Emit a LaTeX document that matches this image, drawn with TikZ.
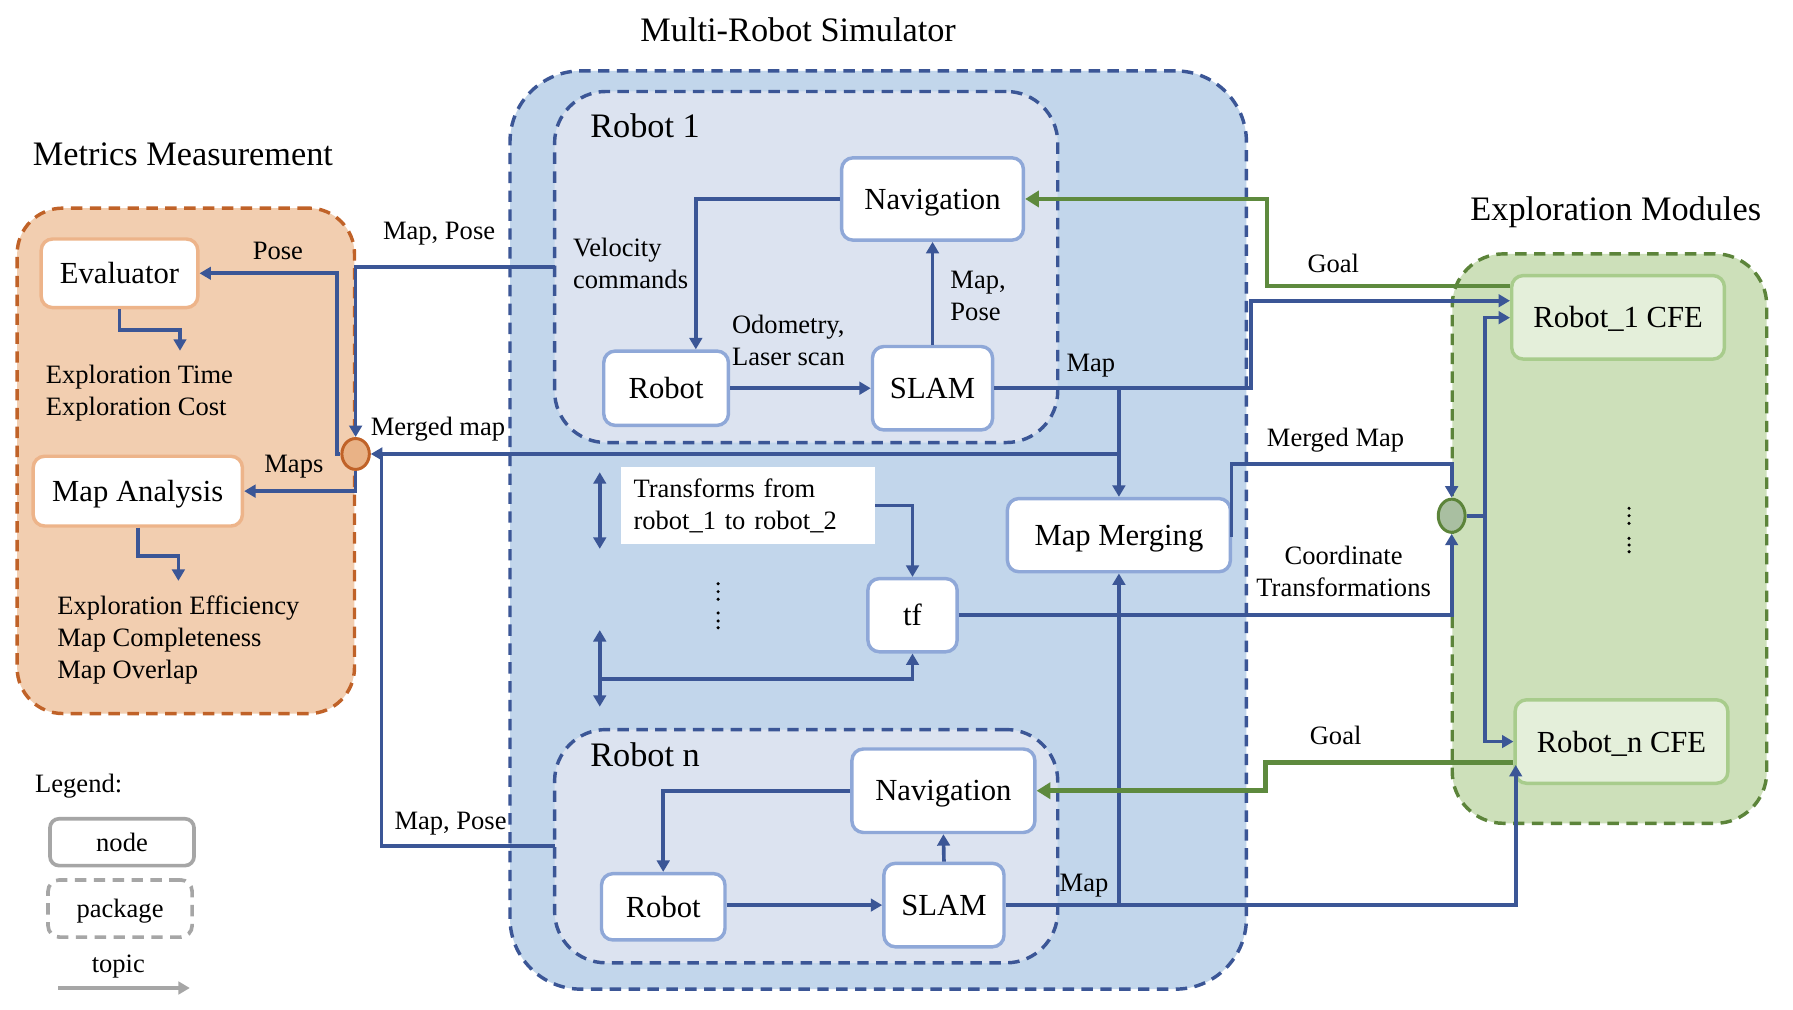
\documentclass[tikz,border=0pt]{standalone}
\usepackage{fontspec}
\setmainfont{Liberation Serif}
\usetikzlibrary{arrows.meta,shapes.geometric}
\definecolor{lineblue}{HTML}{3B5696}
\definecolor{simfill}{HTML}{C2D6EB}
\definecolor{robfill}{HTML}{DCE3F0}
\definecolor{nodeblue}{HTML}{8FA8D8}
\definecolor{orfill}{HTML}{F2CEB0}
\definecolor{ordash}{HTML}{C06228}
\definecolor{ornode}{HTML}{EDB48A}
\definecolor{orcirc}{HTML}{E9B286}
\definecolor{grfill}{HTML}{CDE0BA}
\definecolor{grdash}{HTML}{5C843A}
\definecolor{grnode}{HTML}{A8CC8C}
\definecolor{grnodefill}{HTML}{E4EFDA}
\definecolor{grcirc}{HTML}{A9BFA1}
\definecolor{goalgreen}{HTML}{5E8A3E}
\definecolor{leggray}{HTML}{A6A6A6}
\newcommand\fsTitle{\fontsize{30}{35}\selectfont}
\newcommand\fsNode{\fontsize{26.8}{31}\selectfont}
\newcommand\fsLab{\fontsize{23.2}{28}\selectfont}
\begin{document}
\begin{tikzpicture}[x=1pt,y=-1pt,
  container/.style={line width=3pt, dash pattern=on 10pt off 6.5pt, inner sep=0pt},
  box/.style={draw, line width=3pt, rounded corners=10pt, inner sep=0pt, font=\fsNode, fill=white, text depth=0pt},
  bnode/.style={box, draw=nodeblue},
  onode/.style={box, draw=ornode},
  gnode/.style={box, draw=grnode, fill=grnodefill},
  lab/.style={inner sep=0pt, font=\fsLab, align=left, text depth=0pt},
  tfstyle/.style={inner sep=0pt, font=\fsLab, align=left, fill=white, text width=200pt},
  ttl/.style={inner sep=0pt, font=\fsTitle, text depth=0pt},
  bl/.style={draw=lineblue, line width=3.2pt, -{Triangle[length=10pt,width=11pt]}},
  bln/.style={draw=lineblue, line width=3.2pt},
  dbl/.style={draw=lineblue, line width=3.2pt, {Triangle[length=10pt,width=11pt]}-{Triangle[length=10pt,width=11pt]}},
  gl/.style={draw=goalgreen, line width=4pt, -{Triangle[length=12pt,width=14pt]}},
  dotf/.style={fill=black}
]
\fill[white] (0,0) rectangle (1568,883);
\useasboundingbox (0,0) rectangle (1568,883);

% containers
\node[container, draw=lineblue, fill=simfill, rounded corners=62pt, minimum width=644pt, minimum height=803pt] (sim) at (768,463.5) {};
\node[container, draw=lineblue, fill=robfill, rounded corners=45pt, minimum width=440pt, minimum height=307pt] (r1box) at (705,233.5) {};
\node[container, draw=lineblue, fill=robfill, rounded corners=45pt, minimum width=440pt, minimum height=204pt] (rnbox) at (705,740) {};
\node[container, draw=ordash, fill=orfill, rounded corners=40pt, minimum width=295pt, minimum height=442pt] (met) at (162.5,403) {};
\node[container, draw=grdash, fill=grfill, rounded corners=45pt, minimum width=275pt, minimum height=498pt] (expl) at (1407.5,471) {};

% titles
\node[ttl] (tSim) at (698,26) {Multi-Robot Simulator};
\node[ttl] (tMet) at (160,135) {Metrics Measurement};
\node[ttl] (tExp) at (1413,182) {Exploration Modules};
\node[ttl, anchor=west] (tR1) at (516,110) {Robot 1};
\node[ttl, anchor=west] (tRn) at (516,660) {Robot n};

% nodes
\node[onode, minimum width=137pt, minimum height=60pt] (eval) at (104.5,239) {Evaluator};
\node[onode, minimum width=183pt, minimum height=61pt] (mapan) at (120.5,429.5) {Map Analysis};
\node[bnode, minimum width=159pt, minimum height=72pt] (nav1) at (815.5,174) {Navigation};
\node[bnode, minimum width=109pt, minimum height=65pt] (rob1) at (582.5,339.5) {Robot};
\node[bnode, minimum width=105pt, minimum height=73pt] (slam1) at (815.5,339.5) {SLAM};
\node[bnode, minimum width=195pt, minimum height=64pt] (mm) at (978.5,468) {Map Merging};
\node[bnode, minimum width=78pt, minimum height=64pt] (tf) at (798,538) {tf};
\node[bnode, minimum width=160pt, minimum height=73pt] (navn) at (825,691.5) {Navigation};
\node[bnode, minimum width=108pt, minimum height=58pt] (robn) at (580,793) {Robot};
\node[bnode, minimum width=105pt, minimum height=73pt] (slamn) at (825.5,791.5) {SLAM};
\node[gnode, minimum width=186pt, minimum height=73pt] (cfe1) at (1415,277.5) {Robot\_1 CFE};
\node[gnode, minimum width=186pt, minimum height=73pt] (cfen) at (1418,648.5) {Robot\_n CFE};
\node[ellipse, draw=ordash, fill=orcirc, line width=2.6pt, minimum width=24pt, minimum height=27pt, inner sep=0pt] (circ) at (311,397) {};
\node[ellipse, draw=grdash, fill=grcirc, line width=2.6pt, minimum width=23.5pt, minimum height=29pt, inner sep=0pt] (gc) at (1269.5,451) {};
\node[tfstyle, minimum width=222pt, minimum height=68pt] (tfbox) at (654,442) {Transforms from\\robot\_1 to robot\_2};

% labels
\node[lab] (lMP1) at (384,202) {Map, Pose};
\node[lab] (lPose) at (243,219) {Pose};
\node[lab, anchor=west] (lVel) at (501,230) {Velocity\\commands};
\node[lab, anchor=west] (lOdo) at (640,298) {Odometry,\\Laser scan};
\node[lab, anchor=west] (lMP2) at (831,259) {Map,\\Pose};
\node[lab] (lMap1) at (954,317) {Map};
\node[lab] (lGoal1) at (1166,230) {Goal};
\node[lab] (lMerged) at (383,373) {Merged map};
\node[lab] (lMaps) at (257,406) {Maps};
\node[lab] (lMergedM) at (1168,382) {Merged Map};
\node[lab, align=center] (lCoord) at (1175,500) {Coordinate\\Transformations};
\node[lab] (lGoal2) at (1168,643) {Goal};
\node[lab] (lMP3) at (394,718) {Map, Pose};
\node[lab] (lMap2) at (948,772) {Map};
\node[lab, anchor=west] (lEval) at (40,341) {Exploration Time\\Exploration Cost};
\node[lab, anchor=west] (lAna) at (50,557) {Exploration Efficiency\\Map Completeness\\Map Overlap};

% coordinates
\coordinate (mp1) at (485,233.6);
\coordinate (mpn) at (485,740);
\coordinate (mpnj) at (333.5,397);
\coordinate (evt) at (157.4,306.7);
\coordinate (ant) at (156,508);
\coordinate (m1t) at (1094,263);
\coordinate (g1a) at (1108,250);
\coordinate (g2a) at (1106.8,667);
\coordinate (mnt) at (1325.5,669);
\coordinate (brj) at (1298.8,451);
\coordinate (mmj) at (1077,405.8);
\coordinate (da1a) at (524.5,413);
\coordinate (da1b) at (524.5,480);
\coordinate (da2a) at (524.5,551);
\coordinate (da2b) at (524.5,618);
\coordinate (da2j) at (524.5,594);

% metrics connectors
\draw[bl] (eval.south) |- (157.4,288.6) -- (evt);
\draw[bl] (mapan.south) |- (156,486) -- (ant);
\draw[bl] (mp1) -| (circ.north);
\draw[bl] (circ.west) -- ++(-3,0) |- (eval.east);
\draw[bl] (circ.south) |- (mapan.east);
\draw[bl] (mm.north |- circ.east) -- (circ.east);
\draw[bln] (mpn) -| (mpnj);

% robot 1
\draw[bl] (nav1.west) -| ([xshift=26pt]rob1.north);
\draw[bl] (rob1.east) -- (slam1.west);
\draw[bl] (slam1.north) -- (nav1.south);
\draw[bl] (slam1.east) -| (m1t) -- (cfe1.west |- m1t);
\draw[bl] (mm.north |- slam1.east) -- (mm.north);

% robot n
\draw[bl] (navn.west) -| (robn.north);
\draw[bl] (robn.east |- slamn.west) -- (slamn.west);
\draw[bl] (slamn.north) -- (navn.south);
\draw[bl] (slamn.east) -| (mnt);
\draw[bl] (mm.south |- slamn.east) -- (mm.south);

% goals
\draw[gl] (cfe1.west |- g1a) -- (g1a) |- (nav1.east);
\draw[gl] (cfen.west |- g2a) -- (g2a) |- (navn.east);

% merged map / transforms
\draw[bl] (mm.east) -- (mm.east -| mmj) -- (mmj) -| (gc.north);
\draw[bl] (tf.east) -| (gc.south);
\draw[bln] (gc.east) -- (brj);
\draw[bl] (brj) |- (cfe1.west |- 0,277.8);
\draw[bl] (brj) |- (cfen.west);
\draw[bl] (tfbox.east) -| (tf.north);
\draw[dbl] (da1a) -- (da1b);
\draw[dbl] (da2a) -- (da2b);
\draw[bl] (da2j) -| (tf.south);

% dots
\foreach \yy in {510.5,517.4,524,536,543,549} \fill[dotf] (628,\yy) circle (1.5);
\foreach \yy in {444.5,451,457.7,470.8,476.6,482.5} \fill[dotf] (1424.6,\yy) circle (1.5);

% legend
\node[lab, anchor=west] (lLeg) at (30.6,685) {Legend:};
\node[draw=leggray, line width=3.2pt, rounded corners=8pt, minimum width=126pt, minimum height=41pt, inner sep=0pt, font=\fsLab, text depth=0pt] (legNode) at (106.7,736.5) {node};
\node[draw=leggray, line width=3.2pt, dash pattern=on 10pt off 6.5pt, rounded corners=10pt, minimum width=126pt, minimum height=50pt, inner sep=0pt, font=\fsLab, text depth=0pt] (legPkg) at (105,794.5) {package};
\node[lab] (legTopic) at (103.5,842.5) {topic};
\coordinate (legA) at (51,864);
\coordinate (legB) at (166,864);
\draw[leggray, line width=3.6pt, -{Triangle[length=10pt,width=11pt]}] (legA) -- (legB);
\end{tikzpicture}
\end{document}
